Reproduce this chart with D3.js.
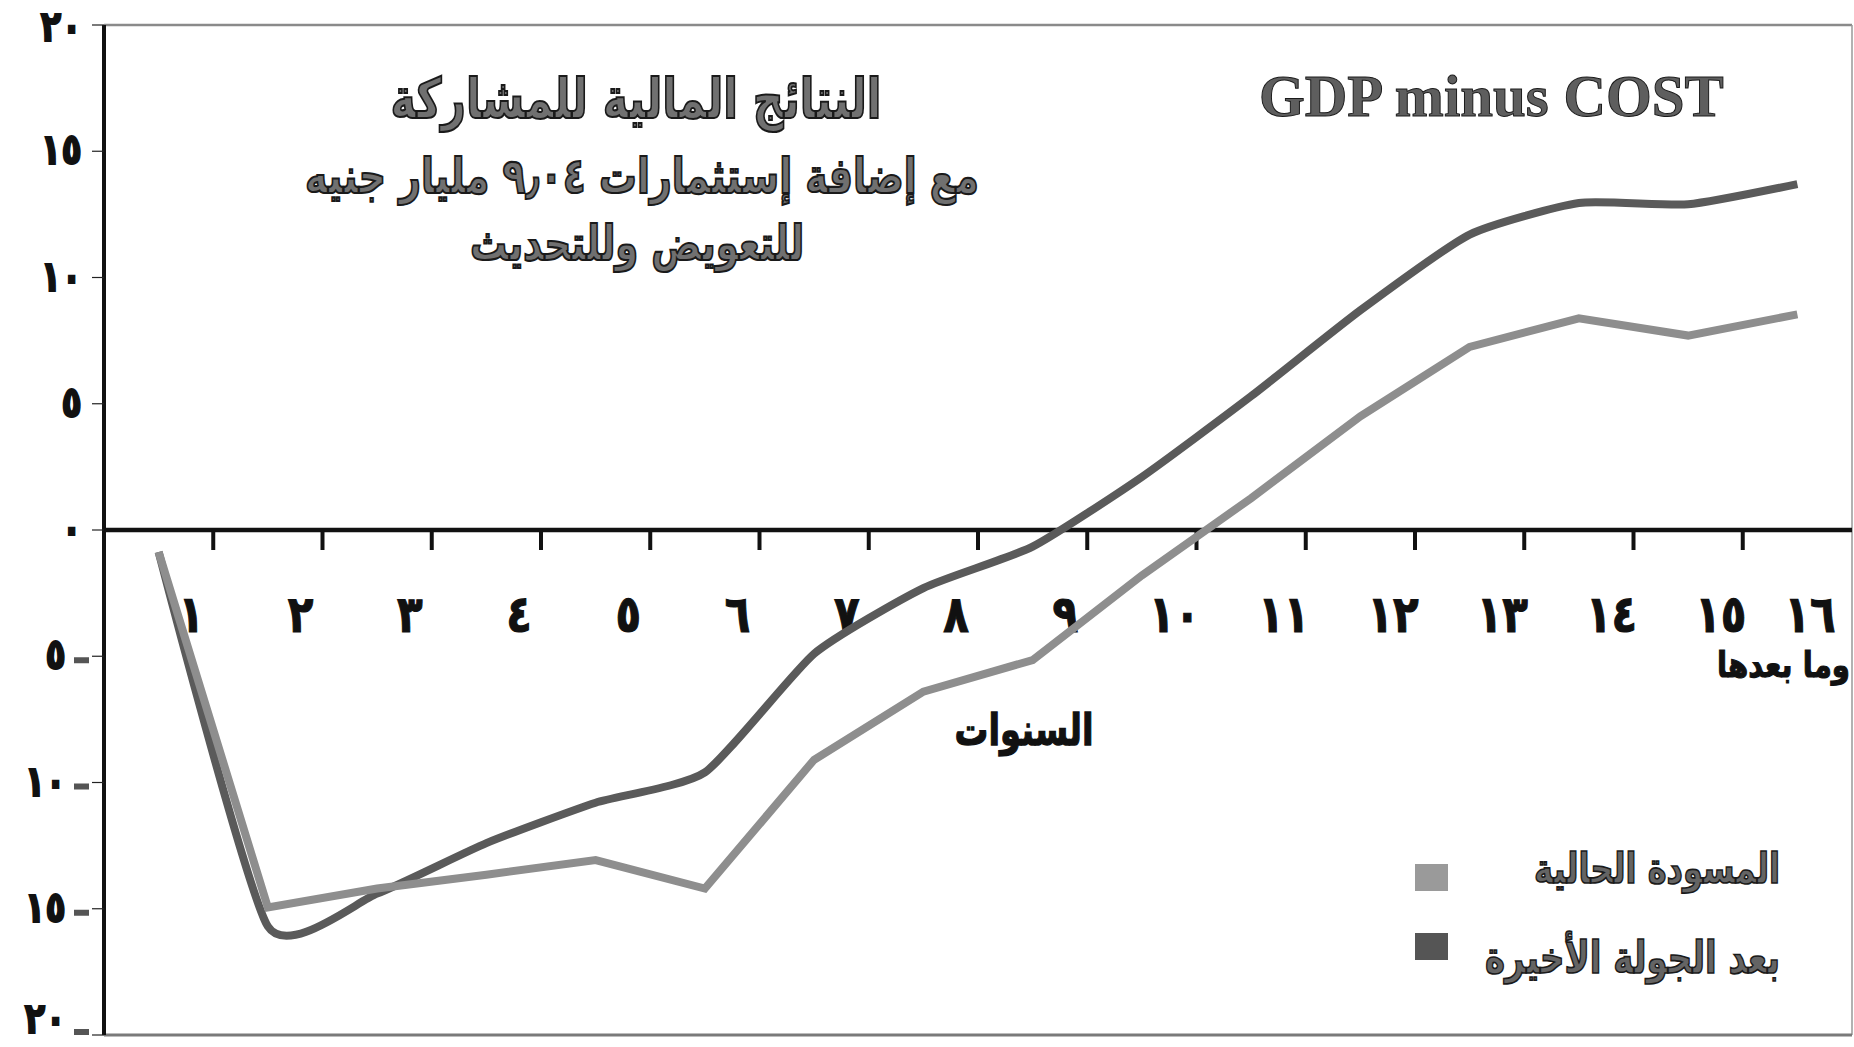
<!DOCTYPE html>
<html><head><meta charset="utf-8">
<script src="https://cdn.jsdelivr.net/npm/d3@7/dist/d3.min.js"></script>
<style>html,body{margin:0;padding:0;background:#fff;} svg{display:block;}</style>
</head><body>
<svg id="chart" width="1854" height="1047"></svg>
<script>
// ---------- data ----------
const years = ["١","٢","٣","٤","٥","٦","٧","٨","٩","١٠","١١","١٢","١٣","١٤","١٥","١٦"];
const currentDraft   = [-0.87,-14.95,-14.2,-13.65,-13.07,-14.2,-9.1,-6.4,-5.15,-1.8,1.26,4.5,7.25,8.38,7.7,8.54];
const afterLastRound = [-0.87,-15.7,-14.4,-12.4,-10.8,-9.6,-4.9,-2.3,-0.66,2.1,5.3,8.7,11.7,12.95,12.9,13.7];
const yTicks = [20,15,10,5,0,-5,-10,-15,-20];
const yTickLabels = ["٢٠","١٥","١٠","٥","٠","٥-","١٠-","١٥-","٢٠-"];
const seriesNames = ["المسودة الحالية","بعد الجولة الأخيرة"];
const titleLines = ["النتائج المالية للمشاركة","مع إضافة إستثمارات ٩٫٠٤  مليار جنيه","للتعويض وللتحديث"];
const englishTitle = "GDP minus COST";
const xAxisTitle = "السنوات";
const lastYearNote = "وما بعدها";

// ---------- layout ----------
const W = 1854, H = 1047;
const plot = {left: 104, right: 1852, top: 25, bottom: 1035};
const svg = d3.select("#chart");
const AR = "'DejaVu Sans', sans-serif";

const x = d3.scaleBand().domain(d3.range(years.length)).range([plot.left, plot.right]).padding(0);
const bw = x.bandwidth();
const cx = i => x(i) + bw / 2;
const y = d3.scaleLinear().domain([-20, 20]).range([plot.bottom, plot.top]);

function fitText(sel, target) {
  const w = sel.node().getComputedTextLength();
  if (w > 0) sel.attr("font-size", parseFloat(sel.attr("font-size")) * target / w);
  return sel;
}
// text placed at (px,py) with a vertical stretch
function stretched(px, py, sy) {
  return svg.append("g").attr("transform", `translate(${px},${py}) scale(1,${sy})`).append("text")
    .attr("x", 0).attr("y", 0);
}

// frame
svg.append("line").attr("x1", plot.left).attr("x2", plot.right).attr("y1", plot.top).attr("y2", plot.top)
  .attr("stroke", "#8a8a8a").attr("stroke-width", 2.5);
svg.append("line").attr("x1", plot.right).attr("x2", plot.right).attr("y1", plot.top).attr("y2", plot.bottom)
  .attr("stroke", "#999").attr("stroke-width", 1.5);
svg.append("line").attr("x1", plot.left).attr("x2", plot.right).attr("y1", plot.bottom).attr("y2", plot.bottom)
  .attr("stroke", "#7a7a7a").attr("stroke-width", 3);

// y axis
svg.append("line").attr("x1", plot.left).attr("x2", plot.left).attr("y1", plot.top).attr("y2", plot.bottom)
  .attr("stroke", "#111").attr("stroke-width", 4);
const yg = svg.append("g");
yg.selectAll("line.tick").data(yTicks).join("line").attr("class", "tick")
  .attr("x1", plot.left - 12).attr("x2", plot.left).attr("y1", d => y(d)).attr("y2", d => y(d))
  .attr("stroke", "#222").attr("stroke-width", 1.2);
yTicks.forEach((d, i) => {
  const ly = Math.max(Math.min(y(d) + 13, H - 14), 41);
  stretched(d < 0 ? 66 : 82, ly, 1.25)
    .attr("text-anchor", "end")
    .attr("font-family", AR).attr("font-weight", "bold").attr("font-size", 34)
    .attr("letter-spacing", 14).attr("fill", "#111").attr("stroke", "#111").attr("stroke-width", 1.5)
    .text(yTickLabels[i].replace("-", ""));
});
yg.selectAll("rect.minus").data(yTicks.filter(d => d < 0)).join("rect").attr("class", "minus")
  .attr("x", 74).attr("y", d => Math.min(y(d) + 1, H - 18)).attr("width", 15).attr("height", 6).attr("fill", "#555");

// zero axis with ticks
svg.append("line").attr("x1", plot.left).attr("x2", plot.right).attr("y1", y(0)).attr("y2", y(0))
  .attr("stroke", "#111").attr("stroke-width", 4.5);
const bounds = d3.range(1, years.length);
svg.selectAll("line.xtick").data(bounds).join("line").attr("class", "xtick")
  .attr("x1", i => x(i)).attr("x2", i => x(i)).attr("y1", y(0)).attr("y2", y(0) + 20)
  .attr("stroke", "#111").attr("stroke-width", 4);
years.forEach((d, i) => {
  stretched(Math.min(x(i) + bw - 22, plot.right - 42), 632, 1.22)
    .attr("text-anchor", "middle").attr("font-family", AR).attr("font-weight", "bold")
    .attr("font-size", 42).attr("letter-spacing", 12).attr("fill", "#111")
    .attr("stroke", "#111").attr("stroke-width", 1).text(d);
});

// lines
const lineLinear = d3.line().x((d, i) => cx(i)).y(d => y(d));
const lineSmooth = d3.line().x((d, i) => cx(i)).y(d => y(d)).curve(d3.curveCardinal.tension(0.45));
svg.append("path").datum(afterLastRound).attr("d", lineSmooth)
  .attr("fill", "none").attr("stroke", "#5a5a5a").attr("stroke-width", 8).attr("stroke-linejoin", "round");
svg.append("path").datum(currentDraft).attr("d", lineLinear)
  .attr("fill", "none").attr("stroke", "#8e8e8e").attr("stroke-width", 8).attr("stroke-linejoin", "miter");

// titles
const titleSpecs = [
  {x: 636, y: 118, w: 491},
  {x: 642, y: 193, w: 674},
  {x: 637, y: 260, w: 334}
];
titleLines.forEach((t, i) => {
  const s = stretched(titleSpecs[i].x, titleSpecs[i].y, 1.3)
    .attr("text-anchor", "middle").attr("font-family", AR).attr("font-weight", "bold")
    .attr("font-size", 40).attr("fill", "#707070").attr("stroke", "#1a1a1a").attr("stroke-width", 1.6)
    .text(t);
  fitText(s, titleSpecs[i].w);
});
fitText(svg.append("text").attr("x", 1259).attr("y", 116)
  .attr("font-family", "'Liberation Serif', 'Times New Roman', serif").attr("font-weight", "bold")
  .attr("font-size", 56).attr("fill", "#5e5e5e").attr("stroke", "#1a1a1a").attr("stroke-width", 1)
  .text(englishTitle), 465);

fitText(stretched(1024, 745, 1.3).attr("text-anchor", "middle")
  .attr("font-family", AR).attr("font-weight", "bold").attr("font-size", 32).attr("fill", "#111")
  .attr("stroke", "#111").attr("stroke-width", 1)
  .text(xAxisTitle), 139);
fitText(stretched(1850, 677, 1.2).attr("text-anchor", "end")
  .attr("font-family", AR).attr("font-weight", "bold").attr("font-size", 28).attr("fill", "#111")
  .attr("stroke", "#111").attr("stroke-width", 1)
  .text(lastYearNote), 133);

// legend
const legendColors = ["#9a9a9a", "#555"];
const legendSpecs = [{sy: 864, ty: 883, w: 246}, {sy: 933, ty: 973, w: 295}];
seriesNames.forEach((n, i) => {
  svg.append("rect").attr("x", 1415).attr("y", legendSpecs[i].sy).attr("width", 33).attr("height", 27)
    .attr("fill", legendColors[i]);
  fitText(stretched(1780, legendSpecs[i].ty, 1.3).attr("text-anchor", "end")
    .attr("font-family", AR).attr("font-weight", "bold").attr("font-size", 32)
    .attr("fill", "#646464").attr("stroke", "#1a1a1a").attr("stroke-width", 1.3)
    .text(n), legendSpecs[i].w);
});
</script>
</body></html>
